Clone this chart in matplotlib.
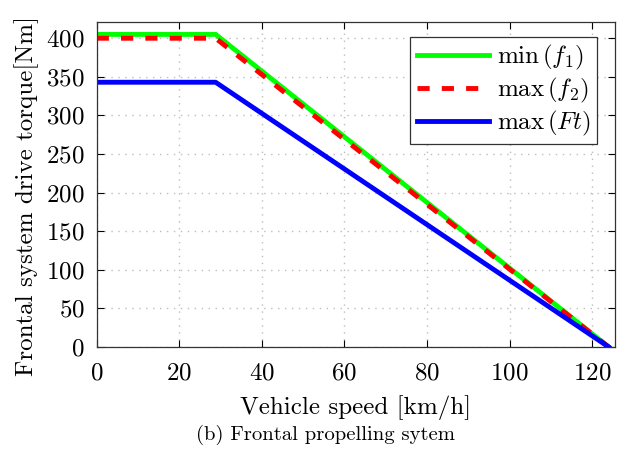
import matplotlib
matplotlib.use("Agg")
import matplotlib.pyplot as plt

plt.rcParams['font.family'] = 'serif'
plt.rcParams['font.serif'] = ['cmr10']
plt.rcParams['mathtext.fontset'] = 'cm'
plt.rcParams['axes.formatter.use_mathtext'] = True

# speed [km/h] and torque [Nm] break points
speed = [0, 28.8, 124]
torque_f1 = [405, 405, 0]
torque_f2 = [400, 400, 0]
torque_ft = [343, 343, 0]
labels = [r'$\min\,(f_1)$', r'$\max\,(f_2)$', r'$\max\,(Ft)$']

fig = plt.figure(figsize=(6.24, 4.5), dpi=100)
ax = fig.add_axes([0.155, 0.229, 0.831, 0.722])

ax.plot(speed, torque_f1, color='#00ff00', lw=3.5, label=labels[0])
ax.plot(speed, torque_f2, color='#ff0000', lw=3.5, ls=(0, (2.5, 2.5)), label=labels[1])
ax.plot(speed, torque_ft, color='#0000ff', lw=3.5, label=labels[2])

ax.set_xlim(0, 125.6)
ax.set_ylim(0, 421)
ax.set_xticks(range(0, 121, 20))
ax.set_yticks(range(0, 401, 50))
ax.grid(True, ls=(0, (1, 4)), color='#bdbdbd', lw=1.0)
ax.tick_params(direction='in', top=True, right=True, labelsize=18, length=5)
ax.tick_params(axis='x', pad=11)
ax.tick_params(axis='y', pad=8.5)
for s in ax.spines.values():
    s.set_linewidth(0.9)
    s.set_color('#333333')

ax.set_xlabel('Vehicle speed [km/h]', fontsize=18, va='center')
ax.set_ylabel('Frontal system drive torque[Nm]', fontsize=18, va='center')
ax.xaxis.set_label_coords(0.5, -0.188)
ax.yaxis.set_label_coords(-0.135, 0.5 - 12 / 325)

leg = ax.legend(loc='upper right', fontsize=18, fancybox=False, framealpha=1,
                edgecolor='#333333', handlelength=2.9, borderpad=0.25,
                labelspacing=0.15, handletextpad=0.3, borderaxespad=0,
                bbox_to_anchor=(0.965, 0.954))
leg.get_frame().set_linewidth(0.9)

fig.text(326 / 624, 1 - 435 / 450, '(b) Frontal propelling sytem', ha='center',
         va='center', fontsize=14.9)

fig.savefig('out.png', dpi=100)
